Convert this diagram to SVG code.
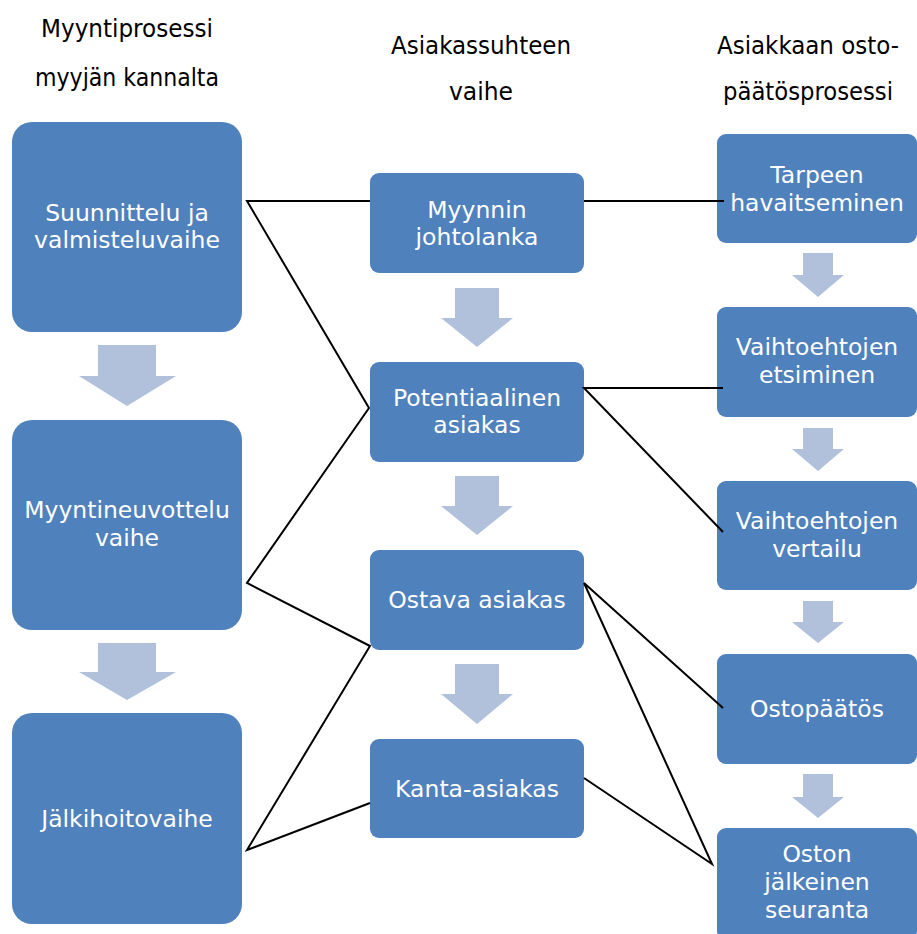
<svg xmlns="http://www.w3.org/2000/svg" width="917" height="934" viewBox="0 0 917 934">
<style>
.box{fill:#4F81BD}
.arr{fill:#B1C1DC}
.t{font-family:"DejaVu Sans","Open Sans",sans-serif;font-size:23.5px;fill:#FFFFFF;text-anchor:middle}
.h{font-family:"DejaVu Sans","Open Sans",sans-serif;font-stretch:condensed;font-size:24px;fill:#000000;text-anchor:middle}
.c{fill:none;stroke:#000000;stroke-width:2;stroke-linejoin:miter}
</style>
<rect width="917" height="934" fill="#FFFFFF"/>
<g id="headers">
<text class="h" x="127" y="37" textLength="172" lengthAdjust="spacingAndGlyphs">Myyntiprosessi</text>
<text class="h" x="127" y="86" textLength="184" lengthAdjust="spacingAndGlyphs">myyjän kannalta</text>
<text class="h" x="481" y="54" textLength="180" lengthAdjust="spacingAndGlyphs">Asiakassuhteen</text>
<text class="h" x="481" y="100" textLength="64" lengthAdjust="spacingAndGlyphs">vaihe</text>
<text class="h" x="808" y="54" textLength="182" lengthAdjust="spacingAndGlyphs">Asiakkaan osto-</text>
<text class="h" x="808" y="100" textLength="170" lengthAdjust="spacingAndGlyphs">päätösprosessi</text>
</g>
<g id="arrows">
<polygon class="arr" points="98,345 156,345 156,376 176,376 127,406 79,376 98,376"/>
<polygon class="arr" points="98,643 156,643 156,672 176,672 127,700 79,672 98,672"/>
<polygon class="arr" points="455,288 499,288 499,318 513,318 477,347 441,318 455,318"/>
<polygon class="arr" points="455,476 499,476 499,506 513,506 477,535 441,506 455,506"/>
<polygon class="arr" points="455,664 499,664 499,694 513,694 477,724 441,694 455,694"/>
<polygon class="arr" points="803,253 833,253 833,275 844,275 818,297 792,275 803,275"/>
<polygon class="arr" points="803,428 833,428 833,449 844,449 818,471 792,449 803,449"/>
<polygon class="arr" points="803,601 833,601 833,622 844,622 818,643 792,622 803,622"/>
<polygon class="arr" points="803,774 833,774 833,797 844,797 818,818 792,797 803,797"/>
</g>
<g id="n1"><rect class="box" x="12" y="122" width="230" height="210" rx="20"/>
<text class="t" x="127" y="221">Suunnittelu ja</text><text class="t" x="127" y="248">valmisteluvaihe</text></g>
<g id="n2"><rect class="box" x="12" y="420" width="230" height="210" rx="20"/>
<text class="t" x="127" y="518">Myyntineuvottelu</text><text class="t" x="127" y="546">vaihe</text></g>
<g id="n3"><rect class="box" x="12" y="713" width="230" height="211" rx="20"/>
<text class="t" x="127" y="827">Jälkihoitovaihe</text></g>
<g id="m1"><rect class="box" x="370" y="173" width="214" height="100" rx="9"/>
<text class="t" x="477" y="218">Myynnin</text><text class="t" x="477" y="245">johtolanka</text></g>
<g id="m2"><rect class="box" x="370" y="362" width="214" height="100" rx="9"/>
<text class="t" x="477" y="406">Potentiaalinen</text><text class="t" x="477" y="433">asiakas</text></g>
<g id="m3"><rect class="box" x="370" y="550" width="214" height="100" rx="9"/>
<text class="t" x="477" y="608">Ostava asiakas</text></g>
<g id="m4"><rect class="box" x="370" y="739" width="214" height="99" rx="9"/>
<text class="t" x="477" y="797">Kanta-asiakas</text></g>
<g id="r1"><rect class="box" x="717" y="134" width="200" height="109" rx="9"/>
<text class="t" x="817" y="183">Tarpeen</text><text class="t" x="817" y="211">havaitseminen</text></g>
<g id="r2"><rect class="box" x="717" y="307" width="200" height="110" rx="9"/>
<text class="t" x="817" y="355">Vaihtoehtojen</text><text class="t" x="817" y="383">etsiminen</text></g>
<g id="r3"><rect class="box" x="717" y="481" width="200" height="109" rx="9"/>
<text class="t" x="817" y="529">Vaihtoehtojen</text><text class="t" x="817" y="557">vertailu</text></g>
<g id="r4"><rect class="box" x="717" y="654" width="200" height="110" rx="9"/>
<text class="t" x="817" y="717">Ostopäätös</text></g>
<g id="r5"><rect class="box" x="717" y="828" width="200" height="112" rx="9"/>
<text class="t" x="817" y="862">Oston</text><text class="t" x="817" y="890">jälkeinen</text><text class="t" x="817" y="918">seuranta</text></g>
<g id="connectors">
<polyline class="c" points="370,201 247,201 369,408 247,583 370,646 247,850 370,803"/>
<line class="c" x1="584" y1="201" x2="724" y2="201"/>
<polyline class="c" points="723,388 584,388 723,532"/>
<polyline class="c" points="723,708 584,583 712,864 584,778"/>
</g>
</svg>
